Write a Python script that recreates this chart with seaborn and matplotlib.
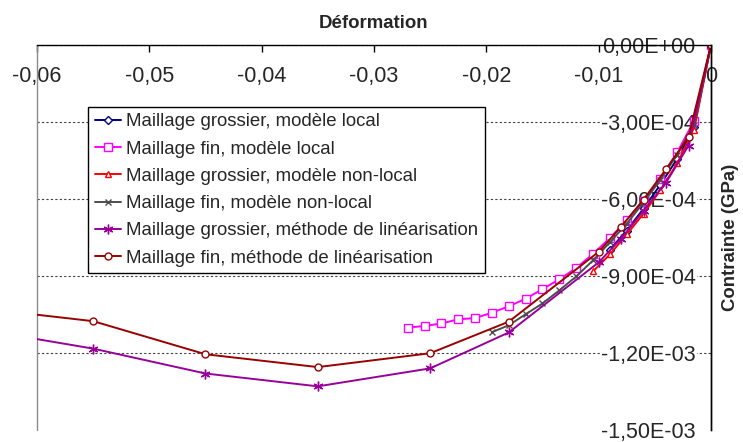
import matplotlib
matplotlib.use("Agg")
import matplotlib.pyplot as plt
import seaborn as sns
from matplotlib.ticker import FuncFormatter

sns.set_style("white")
plt.rcParams['font.family'] = ['Liberation Sans', 'DejaVu Sans']

# strain (x) / stress in GPa (y)
x_gros_local = [-0.009, -0.0075, -0.006, -0.0045, -0.003, -0.0015, 0.0]
y_gros_local = [-7.97e-4, -7.23e-4, -6.37e-4, -5.44e-4, -4.43e-4, -3.19e-4, 0.0]

x_fin_local = [-0.027, -0.0255, -0.024, -0.0225, -0.021, -0.0195, -0.018, -0.0165,
               -0.015, -0.0135, -0.012, -0.0105, -0.009, -0.0075, -0.006, -0.0045,
               -0.003, -0.0015, 0.0]
y_fin_local = [-1.101e-3, -1.095e-3, -1.085e-3, -1.069e-3, -1.064e-3, -1.043e-3,
               -1.018e-3, -0.989e-3, -0.951e-3, -0.913e-3, -0.869e-3, -0.814e-3,
               -0.752e-3, -0.683e-3, -0.606e-3, -0.521e-3, -0.418e-3, -0.295e-3, 0.0]

x_gros_nonlocal = [-0.0105, -0.009, -0.0075, -0.006, -0.0045, -0.003, -0.0015, 0.0]
y_gros_nonlocal = [-8.82e-4, -8.16e-4, -7.38e-4, -6.57e-4, -5.66e-4, -4.60e-4, -3.30e-4, 0.0]

x_fin_nonlocal = [-0.0195, -0.018, -0.0165, -0.015, -0.0135, -0.012, -0.0105,
                  -0.009, -0.0075, -0.006, -0.0045, -0.003, -0.0015, 0.0]
y_fin_nonlocal = [-1.119e-3, -1.092e-3, -1.049e-3, -1.007e-3, -0.956e-3, -0.902e-3,
                  -0.839e-3, -0.769e-3, -0.696e-3, -0.614e-3, -0.525e-3, -0.427e-3,
                  -0.311e-3, 0.0]

x_lin = [-0.0604, -0.055, -0.045, -0.035, -0.025, -0.018, -0.010, -0.008, -0.006,
         -0.004, -0.002, 0.0]
y_gros_lin = [-1.143e-3, -1.183e-3, -1.280e-3, -1.330e-3, -1.260e-3, -1.120e-3,
              -0.847e-3, -0.754e-3, -0.645e-3, -0.536e-3, -0.392e-3, 0.0]
y_fin_lin = [-1.049e-3, -1.076e-3, -1.205e-3, -1.255e-3, -1.201e-3, -1.078e-3,
             -0.806e-3, -0.708e-3, -0.602e-3, -0.484e-3, -0.358e-3, 0.0]

labels = ["Maillage grossier, modèle local",
          "Maillage fin, modèle local",
          "Maillage grossier, modèle non-local",
          "Maillage fin, modèle non-local",
          "Maillage grossier, méthode de linéarisation",
          "Maillage fin, méthode de linéarisation"]

x_ticks = [-0.06, -0.05, -0.04, -0.03, -0.02, -0.01, 0.0]
y_ticks = [-1.5e-3, -1.2e-3, -9e-4, -6e-4, -3e-4, 0.0]

data = [(x_gros_local, y_gros_local), (x_fin_local, y_fin_local),
        (x_gros_nonlocal, y_gros_nonlocal), (x_fin_nonlocal, y_fin_nonlocal),
        (x_lin, y_gros_lin), (x_lin, y_fin_lin)]

# color, marker, marker size, face color, markevery
styles = [("#000080", "D", 4.5, "white", None),
          ("#FF00FF", "s", 5.5, "white", None),
          ("#FF0000", "^", 5, "white", None),
          ("#4D4D4D", "x", 5, "#4D4D4D", None),
          ("#990099", (6, 2, 0), 7, "#990099", list(range(1, len(x_lin)))),
          ("#990000", "o", 5, "white", list(range(1, len(x_lin))))]

fig = plt.figure(figsize=(7.43, 4.42), dpi=100)
ax = fig.add_axes([0.0498, 0.0272, 0.9071, 0.871])

for (xs, ys), lab, (col, mk, ms, fc, me) in zip(data, labels, styles):
    sns.lineplot(x=xs, y=ys, ax=ax, sort=False, estimator=None, color=col,
                 linewidth=1.4, marker=mk, markersize=ms, markerfacecolor=fc,
                 markeredgecolor=col, markeredgewidth=1, markevery=me, label=lab)

ax.set_xlim(-0.06, 0)
ax.set_ylim(-1.5e-3, 0)
ax.set_xticks(x_ticks)
ax.set_yticks(y_ticks)


def fmt_x(v, pos):
    if abs(v) < 1e-12:
        return "0"
    return f"{v:.2f}".replace(".", ",")


def fmt_y(v, pos):
    if abs(v) < 1e-15:
        return "0,00E+00"
    return f"{v:.2E}".replace(".", ",")


ax.xaxis.set_major_formatter(FuncFormatter(fmt_x))
ax.yaxis.set_major_formatter(FuncFormatter(fmt_y))

# axes cross at the origin: x axis on top, y axis on the right
ax.spines['bottom'].set_position(('axes', 1.0))
ax.spines['top'].set_visible(False)
ax.spines['left'].set_position(('axes', 1.0))
for s in ['bottom', 'left', 'right']:
    ax.spines[s].set_color('black')
    ax.spines[s].set_linewidth(1)
ax.axvline(ax.get_xlim()[0], color='#8C8C8C', lw=1, clip_on=False, zorder=0.6)

ax.tick_params(axis='x', direction='out', length=5, width=1, color='black',
               pad=10, labelsize=15.5, bottom=True)
ax.tick_params(axis='y', length=0, pad=11, labelsize=15.5, left=True)

ax.grid(axis='y', color='#404040', linestyle=(0, (2, 2)), linewidth=0.8)
ax.grid(axis='x', visible=False)
ax.yaxis.get_gridlines()[0].set_visible(False)
for lab in ax.get_yticklabels():
    lab.set_bbox(dict(facecolor='white', edgecolor='none', pad=1))

ax.set_title('Déformation', fontsize=13.4, fontweight='bold', pad=12)
ax.set_xlabel('')
ax.yaxis.set_label_position('right')
ax.set_ylabel('Contrainte (GPa)', fontsize=13.4, fontweight='bold', labelpad=8)

leg = ax.legend(loc='upper left', bbox_to_anchor=(0.0757, 0.8394), borderaxespad=0,
                frameon=True, fancybox=False, fontsize=13.4, labelspacing=0.55,
                handlelength=1.4, handletextpad=0.3, borderpad=0.35)
leg.get_frame().set_edgecolor('black')
leg.get_frame().set_linewidth(1)
leg.get_frame().set_facecolor('white')
leg.get_frame().set_alpha(1)

fig.savefig('out.png', dpi=100)
